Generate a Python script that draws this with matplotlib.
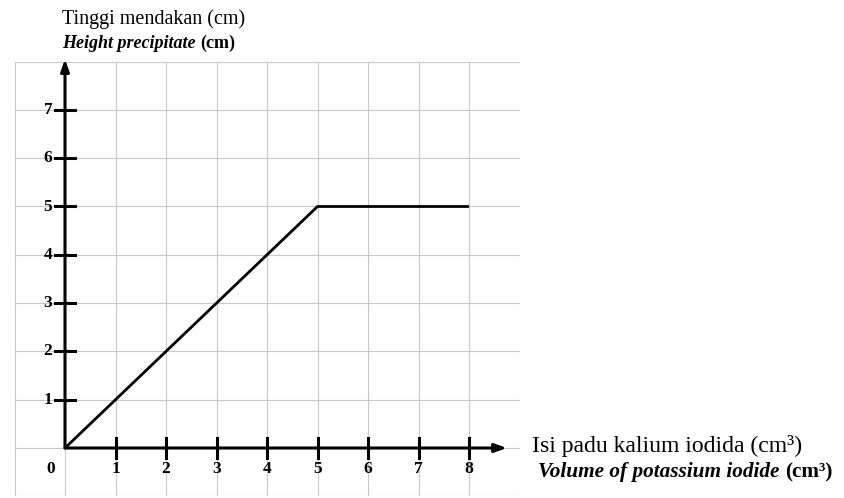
import numpy as np
import matplotlib
matplotlib.use('Agg')
import matplotlib.pyplot as plt

# data
volume = [0, 5, 8]
height = [0, 5, 5]
x_ticks = [1, 2, 3, 4, 5, 6, 7, 8]
y_ticks = [1, 2, 3, 4, 5, 6, 7]

serif = ['Liberation Serif', 'DejaVu Serif']
W, H = 845, 498

fig = plt.figure(figsize=(8.45, 4.98), dpi=100)
ax = fig.add_axes([14.5/W, 1-496.3/H, 505/W, (496.3-61.6)/H])
ax.set_xlim(-1, 9)
ax.set_ylim(-1, 8)
for s in ax.spines.values():
    s.set_visible(False)
ax.set_xticks([])
ax.set_yticks([])

# grid
for gx in range(-1, 10):
    ax.plot([gx, gx], [-1, 8], color='#c8c8c8', lw=0.8, zorder=1)
for gy in range(-1, 9):
    ax.plot([-1, 9], [gy, gy], color='#c8c8c8', lw=0.8, zorder=1)

# axes with arrows
arrow_props = dict(arrowstyle='-|>,head_length=0.7,head_width=0.25',
                   color='k', lw=2.2, shrinkA=0, shrinkB=0)
ax.annotate('', xy=(8.75, 0), xytext=(0, 0), arrowprops=arrow_props,
            annotation_clip=False, zorder=3)
ax.annotate('', xy=(0, 8.05), xytext=(0, 0), arrowprops=arrow_props,
            annotation_clip=False, zorder=3)

# cross ticks
for t in x_ticks:
    ax.plot([t, t], [-0.21, 0.21], color='k', lw=2.2, zorder=3)
    ax.text(t, -0.26, str(t), ha='center', va='top', fontsize=12.5,
            fontweight='bold', family=serif)
for t in y_ticks:
    ax.plot([-0.2, 0.2], [t, t], color='k', lw=2.2, zorder=3)
    ax.text(-0.25, t, str(t), ha='right', va='center', fontsize=12.5,
            fontweight='bold', family=serif)
ax.text(-0.2, -0.26, '0', ha='right', va='top', fontsize=12.5,
        fontweight='bold', family=serif)

# data line
ax.plot(volume, height, color='k', lw=2.0, zorder=4, solid_capstyle='butt')


def text_run(x, y, parts, size):
    # parts: list of (string, style, weight); drawn one after the other
    renderer = fig.canvas.get_renderer()
    for s, style, weight in parts:
        t = fig.text(x/W, 1-y/H, s, ha='left', va='center', fontsize=size,
                     family=serif, style=style, fontweight=weight)
        bb = t.get_window_extent(renderer)
        x = x + bb.width


text_run(62, 19, [('Tinggi mendakan (cm)', 'normal', 'normal')], 14.5)
text_run(62, 43, [('Height precipitate ', 'italic', 'bold'),
                  ('(cm)', 'normal', 'bold')], 13)
text_run(532, 446, [('Isi padu kalium iodida (cm³)', 'normal', 'normal')], 17)
text_run(538, 472, [('Volume of potassium iodide ', 'italic', 'bold'),
                    ('(cm³)', 'normal', 'bold')], 15.3)

fig.savefig('out.png', dpi=100)
